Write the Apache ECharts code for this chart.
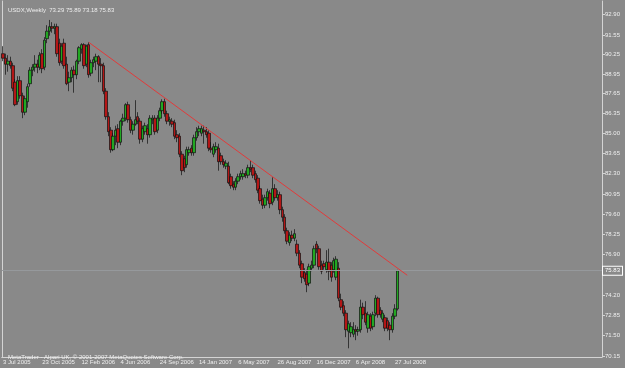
<!DOCTYPE html>
<html>
<head>
<meta charset="utf-8">
<script src="https://cdn.jsdelivr.net/npm/echarts@6/dist/echarts.min.js"></script>
<style>
  html, body { margin: 0; padding: 0; background: #898989; }
  #chartBox { width: 625px; height: 368px; }
</style>
</head>
<body>
<div id="chartBox"></div>
<script>
// weekly USDX bars, starting 3 Jul 2005
const opens = [
  90.3, 90.0, 89.6, 89.8, 89.5, 88.4, 87.1, 88.5, 87.5, 86.4,
  87.1, 88.3, 89.2, 89.4, 89.6, 89.4, 90.3, 89.4, 91.3, 91.8,
  92.1, 92.0, 92.1, 91.0, 89.8, 91.0, 89.6, 88.4, 88.7, 89.2,
  88.9, 89.8, 90.6, 90.9, 89.6, 90.9, 89.0, 89.7, 89.8, 90.1,
  89.6, 89.5, 87.8, 86.1, 85.2, 83.9, 84.8, 85.3, 84.4, 85.8,
  86.0, 86.9, 85.9, 85.2, 85.6, 86.1, 85.8, 84.6, 85.1, 85.3,
  84.9, 85.9, 86.0, 85.2, 86.0, 86.5, 87.1, 86.3, 85.8, 85.8,
  85.7, 84.9, 84.8, 83.6, 83.3, 82.9, 83.7, 84.0, 83.7, 84.7,
  85.1, 85.0, 85.2, 85.1, 85.0, 84.0, 83.6, 83.9, 84.0, 83.5,
  83.1, 82.8, 82.8, 82.1, 81.6, 81.4, 81.8, 82.1, 82.1, 82.3,
  82.2, 82.7, 82.7, 82.3, 82.0, 81.3, 80.6, 80.2, 80.7, 81.0,
  80.4, 81.3, 80.7, 80.9, 79.9, 79.4, 78.5, 77.7, 78.2, 78.0,
  77.6, 77.0, 76.3, 75.7, 75.6, 75.0, 76.0, 76.2, 77.6, 77.3,
  76.2, 76.3, 75.9, 76.4, 76.2, 75.9, 75.4, 76.0, 73.9, 73.5,
  73.0, 71.8, 71.7, 71.6, 71.9, 71.8, 71.9, 73.4, 73.0, 72.0,
  72.8, 72.1, 73.0, 74.0, 73.2, 72.6, 72.7, 72.5, 72.2, 71.9,
  72.8, 73.29
];
const highs = [
  90.8, 90.3, 90.2, 90.1, 89.7, 88.6, 88.8, 88.8, 87.7, 87.5,
  88.3, 89.4, 89.6, 90.2, 89.9, 90.4, 90.6, 91.4, 92.2, 92.55,
  92.4, 92.3, 92.3, 91.3, 91.0, 91.3, 90.1, 89.1, 89.4, 89.5,
  89.9, 90.8, 91.0, 91.0, 90.9, 91.06, 89.9, 90.1, 90.3, 90.2,
  90.0, 89.7, 88.0, 86.4, 85.4, 85.0, 85.5, 85.6, 85.9, 86.3,
  87.0, 87.1, 86.1, 85.8, 87.2, 86.4, 86.0, 85.5, 85.7, 85.6,
  86.2, 86.2, 86.2, 86.2, 86.7, 87.26, 87.3, 86.5, 86.1, 86.0,
  85.9, 85.2, 85.0, 83.8, 83.5, 84.1, 84.1, 84.2, 84.9, 85.4,
  85.5, 85.5, 85.5, 85.4, 85.2, 84.4, 84.3, 84.4, 84.3, 83.7,
  83.3, 83.2, 83.1, 82.3, 81.8, 82.0, 82.3, 82.5, 82.6, 82.5,
  82.9, 83.2, 82.9, 82.5, 82.2, 81.5, 80.9, 80.9, 81.3, 81.2,
  82.06, 81.6, 81.2, 81.1, 80.1, 79.6, 78.7, 78.4, 78.5, 78.6,
  77.9, 77.2, 76.5, 76.0, 75.9, 76.3, 76.5, 77.5, 77.8, 77.5,
  76.5, 76.5, 77.2, 77.3, 76.4, 76.7, 76.8, 76.4, 74.3, 73.8,
  73.2, 72.5, 72.4, 72.4, 72.2, 72.1, 73.9, 73.7, 73.8, 73.1,
  73.0, 73.1, 74.2, 74.1, 73.4, 73.2, 72.9, 72.7, 72.4, 73.0,
  73.6, 75.89
];
const lows = [
  89.8, 88.9, 89.1, 89.3, 87.8, 86.8, 86.9, 87.3, 86.0, 86.2,
  86.7, 88.1, 88.8, 89.1, 89.0, 89.2, 89.0, 89.2, 91.0, 91.5,
  91.7, 91.6, 90.1, 89.5, 89.6, 89.3, 88.2, 87.8, 88.4, 87.7,
  88.6, 89.6, 90.3, 89.3, 89.4, 88.7, 88.8, 89.4, 89.2, 88.4,
  88.4, 87.6, 85.9, 84.8, 83.7, 83.8, 84.2, 84.0, 84.2, 85.5,
  85.8, 85.7, 85.0, 84.9, 85.5, 85.6, 84.3, 84.4, 84.9, 84.3,
  84.7, 85.6, 84.9, 85.0, 85.8, 86.3, 86.1, 85.6, 85.5, 85.4,
  84.6, 84.4, 83.4, 82.2, 82.4, 82.7, 83.5, 83.5, 83.5, 84.5,
  84.8, 84.8, 84.3, 84.7, 83.8, 83.7, 83.4, 83.7, 82.5, 82.9,
  82.7, 82.6, 81.6, 81.3, 81.2, 81.2, 81.6, 81.9, 81.9, 82.0,
  82.0, 82.4, 82.0, 81.7, 81.0, 80.3, 79.95, 80.0, 80.5, 80.0,
  80.2, 80.5, 80.5, 79.6, 79.1, 78.3, 77.6, 77.5, 77.8, 77.8,
  76.8, 76.0, 75.0, 75.1, 74.4, 74.8, 75.8, 76.0, 77.0, 75.9,
  75.6, 75.9, 75.7, 75.2, 75.1, 75.7, 75.2, 73.8, 73.2, 72.8,
  71.4, 70.66, 71.4, 71.4, 71.2, 71.5, 71.7, 72.6, 72.2, 71.7,
  71.8, 71.9, 72.8, 72.7, 72.7, 72.4, 71.8, 71.8, 71.2, 71.7,
  72.6, 73.18
];
const closes = [
  90.0, 89.6, 89.8, 89.5, 88.0, 86.9, 88.5, 87.5, 86.4, 87.3,
  88.1, 89.2, 89.4, 89.6, 89.4, 90.2, 89.3, 91.2, 91.8, 92.1,
  92.0, 92.1, 90.3, 89.7, 90.8, 89.5, 88.3, 88.7, 89.2, 88.9,
  89.8, 90.7, 90.9, 89.5, 90.8, 88.9, 89.7, 89.9, 90.1, 89.6,
  89.5, 87.8, 86.1, 85.1, 83.9, 84.8, 85.2, 84.4, 85.8, 86.0,
  86.9, 85.9, 85.2, 85.6, 85.9, 85.8, 84.6, 85.3, 85.5, 84.9,
  86.0, 86.0, 85.1, 86.0, 86.5, 87.1, 86.3, 85.8, 85.9, 85.6,
  84.8, 84.7, 83.6, 82.5, 82.7, 83.9, 83.9, 83.7, 84.7, 85.1,
  85.3, 85.3, 85.1, 84.9, 84.0, 83.9, 84.1, 84.1, 83.1, 83.1,
  82.9, 83.0, 81.7, 81.5, 81.4, 81.8, 82.1, 82.3, 82.3, 82.2,
  82.7, 82.6, 82.2, 81.9, 81.2, 80.5, 80.2, 80.7, 81.1, 80.3,
  81.3, 80.7, 80.9, 79.9, 79.4, 78.5, 77.8, 78.2, 78.0, 78.3,
  77.0, 76.2, 75.4, 75.3, 74.9, 76.1, 76.2, 77.3, 77.3, 76.1,
  75.8, 76.1, 76.4, 75.8, 75.4, 76.5, 76.6, 74.0, 73.4, 73.0,
  71.9, 72.3, 72.1, 71.9, 71.8, 71.9, 73.4, 72.9, 72.4, 72.9,
  72.0, 72.9, 74.0, 72.9, 72.9, 73.0, 72.0, 72.0, 71.9, 72.8,
  73.29, 75.83
];

// price scale labels shown on the right
const yTicks = [70.15, 71.50, 72.85, 74.20, 76.90, 78.25, 79.60, 80.95, 82.30,
  83.65, 85.00, 86.35, 87.65, 88.95, 90.25, 91.55, 92.90];

// trend line: bar index and price at both ends
const trendIdx = [35, 165];
const trendVal = [91.06, 75.53];

const monthNames = ["Jan", "Feb", "Mar", "Apr", "May", "Jun", "Jul", "Aug", "Sep", "Oct", "Nov", "Dec"];
const totalSlots = 245;
const startDay = Date.UTC(2005, 6, 3);
const categories = [];
for (let i = 0; i < totalSlots; i++) {
  if (i < closes.length) {
    const d = new Date(startDay + i * 7 * 86400000);
    categories.push(d.getUTCDate() + " " + monthNames[d.getUTCMonth()] + " " + d.getUTCFullYear());
  } else {
    categories.push("");
  }
}

const candles = closes.map((c, i) => [opens[i], c, lows[i], highs[i]]);
const last = closes.length - 1;
const header = "USDX,Weekly  " + opens[last].toFixed(2) + " " + highs[last].toFixed(2) + " " +
  lows[last].toFixed(2) + " " + closes[last].toFixed(2);

const txt = "#eeeeee";
const axisCol = "#d4d4d4";
const font = "Liberation Sans, Arial, sans-serif";
const showTick = (idx) => idx % 16 === 0 && idx <= last;

const chartDom = document.getElementById("chartBox");
const myChart = echarts.init(chartDom);
const option = {
  backgroundColor: "#898989",
  animation: false,
  title: [
    {
      text: header,
      left: 3,
      top: 2,
      textStyle: { fontSize: 6, fontWeight: "normal", color: txt, fontFamily: font },
    },
    {
      text: "MetaTrader - Alpari UK, © 2001-2007 MetaQuotes Software Corp.",
      left: 3,
      top: 349,
      textStyle: { fontSize: 6, fontWeight: "normal", color: txt, fontFamily: font },
    },
  ],
  grid: { left: 1, right: 23, top: 1, bottom: 11 },
  xAxis: {
    type: "category",
    data: categories,
    boundaryGap: true,
    axisLine: { onZero: false, lineStyle: { color: axisCol, width: 1 } },
    axisTick: { interval: showTick, alignWithLabel: true, length: 3, lineStyle: { color: axisCol } },
    axisLabel: {
      interval: showTick,
      align: "left",
      margin: 2,
      fontSize: 6,
      color: txt,
      fontFamily: font,
    },
    splitLine: { show: false },
  },
  yAxis: [
    {
      type: "value",
      position: "right",
      min: 70.08,
      max: 93.813,
      axisLine: { show: true, lineStyle: { color: axisCol, width: 1 } },
      axisTick: { show: true, length: 3, customValues: yTicks, lineStyle: { color: axisCol } },
      axisLabel: {
        customValues: yTicks,
        formatter: (v) => v.toFixed(2),
        margin: 3,
        fontSize: 6,
        color: txt,
        fontFamily: font,
      },
      splitLine: { show: false },
    },
    {
      type: "value",
      position: "left",
      min: 70.08,
      max: 93.813,
      axisLine: { show: true, lineStyle: { color: axisCol, width: 1 } },
      axisTick: { show: false },
      axisLabel: { show: false },
      splitLine: { show: false },
    },
  ],
  series: [
    {
      name: "USDX",
      type: "candlestick",
      data: candles,
      barWidth: 3,
      itemStyle: {
        color: "#22a822",
        color0: "#b41616",
        borderColor: "#101010",
        borderColor0: "#101010",
        borderWidth: 0.7,
      },
      markLine: {
        silent: true,
        symbol: "none",
        data: [{ yAxis: closes[last] }],
        lineStyle: { color: "#96999c", width: 1, type: "solid" },
        label: {
          position: "end",
          distance: 1,
          formatter: (p) => p.value.toFixed(2),
          fontSize: 6,
          color: "#ffffff",
          fontFamily: font,
          backgroundColor: "#898989",
          borderColor: "#ffffff",
          borderWidth: 1,
          padding: [1, 2],
        },
      },
    },
    {
      name: "trend",
      type: "line",
      data: trendIdx.map((x, k) => [x, trendVal[k]]),
      symbol: "none",
      z: 5,
      lineStyle: { color: "#e23a3a", width: 1 },
    },
  ],
};
myChart.setOption(option);
</script>
</body>
</html>
